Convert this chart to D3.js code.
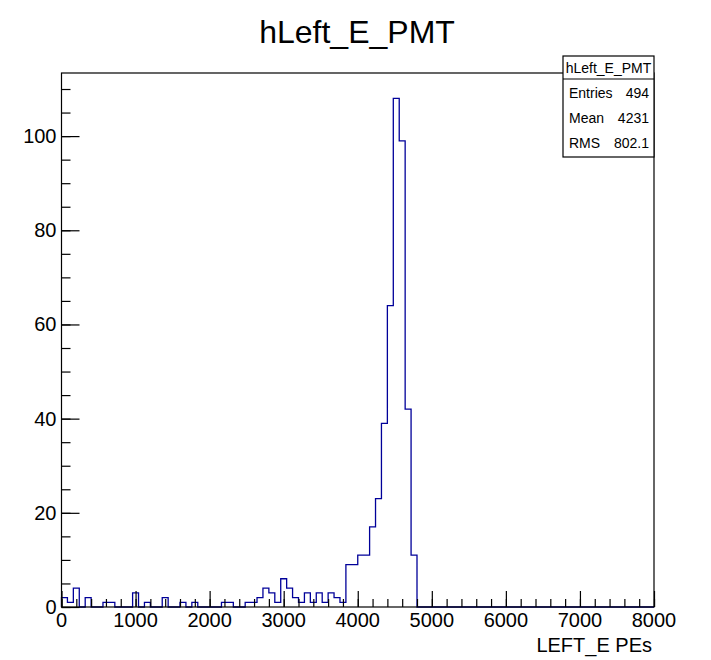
<!DOCTYPE html>
<html>
<head>
<meta charset="utf-8">
<script src="https://cdn.jsdelivr.net/npm/d3@7"></script>
<style>
  body { margin: 0; background: #fff; }
  text { font-family: "Liberation Sans", Arial, sans-serif; fill: #000; }
</style>
</head>
<body>
<script>
var w = 711;
var h = 660;

// histogram hLeft_E_PMT : 100 bins from 0 to 8000
var xMin = 0, xMax = 8000, nBins = 100;
var counts = [
  2, 1, 4, 0, 2, 0, 0, 1, 1, 0,
  0, 0, 3, 0, 1, 0, 0, 2, 0, 0,
  1, 0, 1, 0, 0, 0, 0, 1, 1, 0,
  0, 1, 1, 2, 4, 3, 1, 6, 4, 2,
  1, 3, 1, 3, 1, 3, 2, 1, 9, 9,
  11, 11, 17, 23, 39, 64, 108, 99, 42, 11,
  0, 0, 0, 0, 0, 0, 0, 0, 0, 0,
  0, 0, 0, 0, 0, 0, 0, 0, 0, 0,
  0, 0, 0, 0, 0, 0, 0, 0, 0, 0,
  0, 0, 0, 0, 0, 0, 0, 0, 0, 0
];
var xTicks = [0, 1000, 2000, 3000, 4000, 5000, 6000, 7000, 8000];
var yTicks = [0, 20, 40, 60, 80, 100];
var statNames = ["Entries", "Mean", "RMS"];
var statValues = ["494", "4231", "802.1"];

var svg = d3.select('body')
            .append('svg')
            .attr('width', w)
            .attr('height', h);

var frame = {left: 61.5, right: 654, top: 73, bottom: 607};
var yMax = 1.05 * d3.max(counts);

var x = d3.scaleLinear()
          .domain([xMin, xMax])
          .range([frame.left, frame.right]);
var y = d3.scaleLinear()
          .domain([0, yMax])
          .range([frame.bottom, frame.top]);

var binW = (xMax - xMin) / nBins;

// outline of the histogram, ROOT style
var pts = [[xMin, 0]];
counts.forEach(function(c, i) {
    pts.push([xMin + i * binW, c]);
    pts.push([xMin + (i + 1) * binW, c]);
});
pts.push([xMax, 0]);

var line = d3.line()
             .x(function(d) { return x(d[0]); })
             .y(function(d) { return y(d[1]); });

svg.append('path')
   .attr('d', line(pts))
   .attr('fill', 'none')
   .attr('stroke', '#000099')
   .attr('stroke-width', 1.3);

// frame
svg.append('rect')
   .attr('x', frame.left)
   .attr('y', frame.top)
   .attr('width', frame.right - frame.left)
   .attr('height', frame.bottom - frame.top)
   .attr('fill', 'none')
   .attr('stroke', '#000')
   .attr('stroke-width', 1.2);

// ticks go inside the frame like ROOT
var xMajor = d3.axisTop(x).tickValues(xTicks).tickSize(16).tickFormat('');
var xMinor = d3.axisTop(x).tickValues(d3.range(0, 8001, 200)).tickSize(8).tickFormat('');
var yMajor = d3.axisRight(y).tickValues(yTicks).tickSize(18).tickFormat('');
var yMinor = d3.axisRight(y).tickValues(d3.range(0, 113, 5)).tickSize(9).tickFormat('');

[xMinor, xMajor].forEach(function(a) {
    svg.append('g').attr('class', 'axis')
       .attr('transform', 'translate(0,' + frame.bottom + ')')
       .call(a);
});
[yMinor, yMajor].forEach(function(a) {
    svg.append('g').attr('class', 'axis')
       .attr('transform', 'translate(' + frame.left + ',0)')
       .call(a);
});
svg.selectAll('.axis path.domain').remove();
svg.selectAll('.axis line').attr('stroke', '#000').attr('stroke-width', 1.2);

// tick labels
svg.selectAll('text.xlab')
   .data(xTicks)
   .enter()
   .append('text')
   .attr('class', 'xlab')
   .attr('x', function(d) { return x(d); })
   .attr('y', 627)
   .attr('text-anchor', 'middle')
   .attr('font-size', 20)
   .text(function(d) { return d; });

svg.selectAll('text.ylab')
   .data(yTicks)
   .enter()
   .append('text')
   .attr('class', 'ylab')
   .attr('x', frame.left - 5)
   .attr('y', function(d) { return y(d) + 7; })
   .attr('text-anchor', 'end')
   .attr('font-size', 20)
   .text(function(d) { return d; });

svg.append('text')
   .attr('x', frame.right - 2)
   .attr('y', 652)
   .attr('text-anchor', 'end')
   .attr('font-size', 20)
   .text('LEFT_E PEs');

svg.append('text')
   .attr('x', 357)
   .attr('y', 43)
   .attr('text-anchor', 'middle')
   .attr('font-size', 32)
   .text('hLeft_E_PMT');

// stats box
var box = {left: 563, right: 654, top: 56, head: 79, bottom: 157};
svg.append('rect')
   .attr('x', box.left)
   .attr('y', box.top)
   .attr('width', box.right - box.left)
   .attr('height', box.bottom - box.top)
   .attr('fill', '#fff')
   .attr('stroke', '#000')
   .attr('stroke-width', 1.2);
svg.append('line')
   .attr('x1', box.left).attr('x2', box.right)
   .attr('y1', box.head).attr('y2', box.head)
   .attr('stroke', '#000')
   .attr('stroke-width', 1.2);
svg.append('text')
   .attr('x', (box.left + box.right) / 2)
   .attr('y', 73)
   .attr('text-anchor', 'middle')
   .attr('font-size', 14)
   .text('hLeft_E_PMT');

var rowY = d3.scalePoint().domain(statNames).range([98, 148]);
svg.selectAll('text.sname')
   .data(statNames)
   .enter()
   .append('text')
   .attr('x', box.left + 6)
   .attr('y', function(d) { return rowY(d); })
   .attr('font-size', 14)
   .text(function(d) { return d; });
svg.selectAll('text.sval')
   .data(statValues)
   .enter()
   .append('text')
   .attr('x', box.right - 5)
   .attr('y', function(d, i) { return rowY(statNames[i]); })
   .attr('text-anchor', 'end')
   .attr('font-size', 14)
   .text(function(d) { return d; });
</script>
</body>
</html>
